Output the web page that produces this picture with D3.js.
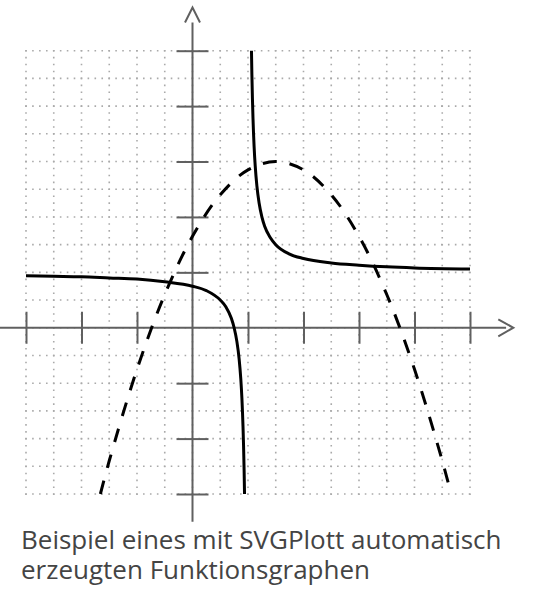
<!DOCTYPE html>
<html>
<head>
<meta charset="utf-8">
<script src="https://cdn.jsdelivr.net/npm/d3@7"></script>
<style>
  html, body { margin: 0; padding: 0; background: #fff; }
  svg { display: block; }
</style>
</head>
<body>
<svg id="chart" width="534" height="596"></svg>
<script>
// ---- data ----
const xTicks = [-3, -2, -1, 1, 2, 3, 4, 5];
const yTicks = [-3, -2, -1, 1, 2, 3, 4, 5];
const gridValues = [-3, -2.5, -2, -1.5, -1, -0.5, 0, 0.5, 1, 1.5, 2, 2.5, 3, 3.5, 4, 4.5, 5];

// hyperbola, left branch
const hypLeftX = [-3, -2.5, -2, -1.5, -1, -0.5, 0, 0.25, 0.5, 0.6, 0.7, 0.75, 0.8, 0.84, 0.87, 0.89, 0.91, 0.92, 0.93, 0.9375];
const hypLeftY = [0.94, 0.93, 0.92, 0.9, 0.88, 0.83, 0.75, 0.67, 0.5, 0.38, 0.17, 0, -0.25, -0.56, -0.92, -1.27, -1.78, -2.13, -2.57, -3];
// hyperbola, right branch
const hypRightX = [1.0625, 1.07, 1.08, 1.09, 1.11, 1.13, 1.16, 1.2, 1.25, 1.3, 1.4, 1.5, 1.75, 2, 2.5, 3, 3.5, 4, 5];
const hypRightY = [5, 4.57, 4.13, 3.78, 3.27, 2.92, 2.56, 2.25, 2, 1.83, 1.63, 1.5, 1.33, 1.25, 1.17, 1.13, 1.1, 1.08, 1.06];
// parabola (dashed)
const parX = [-1.66, -1.5, -1, -0.5, 0, 0.5, 1, 1.5, 2, 2.5, 3, 3.5, 4, 4.5, 4.66];
const parY = [-3, -2.4, -0.75, 0.6, 1.65, 2.4, 2.85, 3, 2.85, 2.4, 1.65, 0.6, -0.75, -2.4, -3];

const captionLines = ["Beispiel eines mit SVGPlott automatisch", "erzeugten Funktionsgraphen"];

// ---- chart ----
const svg = d3.select("#chart");
const x = d3.scaleLinear().domain([-3, 5]).range([26, 470]);
const y = d3.scaleLinear().domain([-3, 5]).range([494, 50.7]);

// grid
const grid = svg.append("g")
  .attr("stroke", "#aaa").attr("stroke-width", 1.6)
  .attr("stroke-dasharray", "1.6 5.33").attr("fill", "none");
grid.selectAll("line.v").data(gridValues).join("line").attr("class", "v")
  .attr("x1", d => x(d)).attr("x2", d => x(d))
  .attr("y1", y(5) - 0.8).attr("y2", y(-3) + 1);
grid.selectAll("line.h").data(gridValues).join("line").attr("class", "h")
  .attr("y1", d => y(d)).attr("y2", d => y(d))
  .attr("x1", x(-3) - 0.8).attr("x2", x(5) + 1);

// axes lines
const axisColor = "#606060";
const ax = svg.append("g").attr("stroke", axisColor).attr("stroke-width", 2).attr("fill", "none");
ax.append("line").attr("x1", x(-3.48)).attr("x2", x(5.65)).attr("y1", y(0)).attr("y2", y(0));
ax.append("line").attr("x1", x(0)).attr("x2", x(0)).attr("y1", y(-3.5)).attr("y2", y(5.51));
// arrows (open chevrons)
const tipX = x(5.78), tipY = y(5.78);
ax.append("path").attr("d", `M${tipX - 15},${y(0) - 8.5}L${tipX},${y(0)}L${tipX - 15},${y(0) + 8.5}`);
ax.append("path").attr("d", `M${x(0) - 7.5},${tipY + 15}L${x(0)},${tipY}L${x(0) + 7.5},${tipY + 15}`);

// ticks via d3 axes (symmetric, no labels)
function styleAxis(g) {
  g.select(".domain").remove();
  g.selectAll(".tick line").attr("stroke", axisColor).attr("stroke-width", 2);
  g.selectAll(".tick text").remove();
}
svg.append("g").attr("transform", `translate(0,${y(0)})`)
  .call(d3.axisBottom(x).tickValues(xTicks).tickSize(16).tickFormat("")).call(styleAxis);
svg.append("g").attr("transform", `translate(0,${y(0)})`)
  .call(d3.axisTop(x).tickValues(xTicks).tickSize(16).tickFormat("")).call(styleAxis);
svg.append("g").attr("transform", `translate(${x(0)},0)`)
  .call(d3.axisLeft(y).tickValues(yTicks).tickSize(16).tickFormat("")).call(styleAxis);
svg.append("g").attr("transform", `translate(${x(0)},0)`)
  .call(d3.axisRight(y).tickValues(yTicks).tickSize(16).tickFormat("")).call(styleAxis);

// curves
const line = d3.line().x(d => x(d[0])).y(d => y(d[1])).curve(d3.curveMonotoneX);
const smooth = d3.line().x(d => x(d[0])).y(d => y(d[1])).curve(d3.curveCatmullRom);
const curves = svg.append("g").attr("fill", "none").attr("stroke", "#000").attr("stroke-width", 3);
curves.append("path").attr("d", line(hypLeftX.map((v, i) => [v, hypLeftY[i]])));
curves.append("path").attr("d", line(hypRightX.map((v, i) => [v, hypRightY[i]])));
curves.append("path").attr("d", smooth(parX.map((v, i) => [v, parY[i]])))
  .attr("stroke-dasharray", "14 13");

// caption
const cap = svg.append("text").attr("x", 21).attr("y", 548.5)
  .attr("font-family", "'Open Sans', sans-serif").attr("font-size", 26).attr("fill", "#444");
cap.selectAll("tspan").data(captionLines).join("tspan")
  .attr("x", 21).attr("dy", (d, i) => i === 0 ? 0 : 30.5).text(d => d);
</script>
</body>
</html>
